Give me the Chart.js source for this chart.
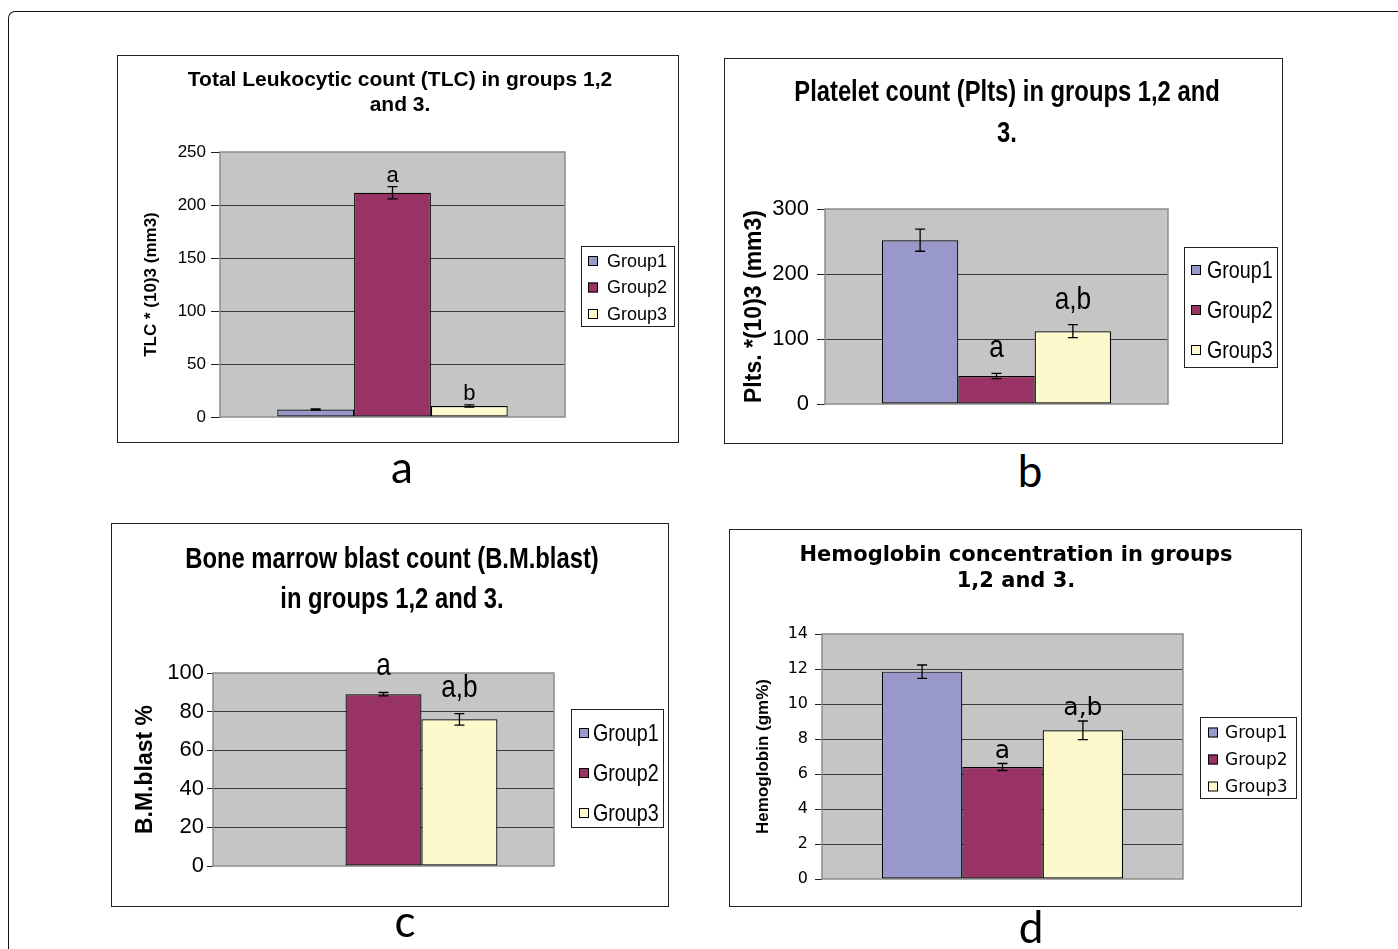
<!DOCTYPE html>
<html>
<head>
<meta charset="utf-8">
<script src="https://cdn.jsdelivr.net/npm/chart.js@4.4.0/dist/chart.umd.min.js"></script>
<style>
body{margin:0;background:#fff;width:1398px;height:949px;overflow:hidden;position:relative;}
.frame{position:absolute;left:8px;top:11px;width:1500px;height:1000px;border-top:1.5px solid #111;border-left:1.5px solid #111;border-top-left-radius:7px;}
.panel{position:absolute;box-sizing:border-box;border:1px solid #222;background:#fff;}
.panel canvas{position:absolute;left:0;top:0;}
.tag{position:absolute;font-family:Lato,"Open Sans",sans-serif;font-size:44px;line-height:44px;width:80px;text-align:center;color:#000;}
</style>
</head>
<body>
<div class="frame"></div>

<div class="panel" style="left:117px;top:55px;width:562px;height:388px;"><canvas id="tlcChart" width="560" height="386"></canvas></div>
<div class="panel" style="left:724px;top:58px;width:559px;height:386px;"><canvas id="pltChart" width="557" height="384"></canvas></div>
<div class="panel" style="left:111px;top:523px;width:558px;height:384px;"><canvas id="blastChart" width="556" height="382"></canvas></div>
<div class="panel" style="left:729px;top:529px;width:573px;height:378px;"><canvas id="hbChart" width="571" height="376"></canvas></div>

<div class="tag" style="left:362px;top:444px;">a</div>
<div class="tag" style="left:990px;top:448px;">b</div>
<div class="tag" style="left:365px;top:898px;">c</div>
<div class="tag" style="left:991px;top:904px;">d</div>

<script>
// data
const groups = ["Group1", "Group2", "Group3"];
const groupColors = ["#9898cb", "#993366", "#fcf9cc"];

const tlcMean = [7, 211.5, 10.4];
const tlcErr = [0.6, 5.8, 1];
const tlcSig = ["", "a", "b"];
const tlcTicks = [0, 50, 100, 150, 200, 250];

const pltMean = [252, 43, 112];
const pltErr = [17, 4, 10];
const pltSig = ["", "a", "a,b"];
const pltTicks = [0, 100, 200, 300];

const blastMean = [0, 89, 76];
const blastErr = [0, 0.9, 3];
const blastSig = ["", "a", "a,b"];
const blastTicks = [0, 20, 40, 60, 80, 100];

const hbMean = [11.85, 6.4, 8.5];
const hbErr = [0.38, 0.2, 0.53];
const hbSig = ["", "a", "a,b"];
const hbTicks = [0, 2, 4, 6, 8, 10, 12, 14];

const arial = '"Liberation Sans", Arial, sans-serif';
const dejavu = '"DejaVu Sans", sans-serif';

// text squeezed sideways, stands in for Arial Narrow
function squeezed(ctx, t, x, y, k){
  ctx.save();
  ctx.translate(x, y);
  ctx.scale(k, 1);
  ctx.fillText(t, 0, 0);
  ctx.restore();
}


function makeChart(id, s){

  let k = s.squeeze || 1;

  let decor = {
    id: "decor",
    beforeDraw(chart){
      let a = chart.chartArea, ctx = chart.ctx;
      ctx.save();
      ctx.fillStyle = "#c5c5c5";
      ctx.fillRect(a.left, a.top, a.right - a.left, a.bottom - a.top);
      ctx.restore();
    },
    beforeDatasetsDraw(chart){
      let a = chart.chartArea, ctx = chart.ctx;
      ctx.save();
      ctx.strokeStyle = "#8c8c8c";
      ctx.lineWidth = 1.5;
      ctx.strokeRect(a.left, a.top, a.right - a.left, a.bottom - a.top);
      ctx.restore();
    },
    afterDatasetsDraw(chart){
      let ctx = chart.ctx, y = chart.scales.y;
      ctx.save();
      ctx.strokeStyle = "#000";
      ctx.lineWidth = 1.3;
      ctx.fillStyle = "#000";
      ctx.font = s.sigFont;
      ctx.textAlign = "center";
      ctx.textBaseline = "alphabetic";
      for(let i = 0; i < groups.length; i++){
        let bar = chart.getDatasetMeta(i).data[0];
        let top = y.getPixelForValue(s.mean[i] + s.err[i]);
        let bot = y.getPixelForValue(s.mean[i] - s.err[i]);
        if(s.err[i] > 0){
          ctx.beginPath();
          ctx.moveTo(bar.x, top); ctx.lineTo(bar.x, bot);
          ctx.moveTo(bar.x - 5, top); ctx.lineTo(bar.x + 5, top);
          ctx.moveTo(bar.x - 5, bot); ctx.lineTo(bar.x + 5, bot);
          ctx.stroke();
        }
        if(s.sig[i]){
          squeezed(ctx, s.sig[i], bar.x, top - s.sigGap, k);
        }
      }
      ctx.restore();
    },
    afterDraw(chart){
      let ctx = chart.ctx;
      ctx.save();
      // title
      ctx.fillStyle = "#000";
      ctx.font = s.titleFont;
      ctx.textAlign = "center";
      ctx.textBaseline = "middle";
      s.title.forEach((t, i) => squeezed(ctx, t, s.titleX, s.titleY + i * s.titleLH, k));
      // legend
      let L = s.legend;
      ctx.strokeStyle = "#222";
      ctx.lineWidth = 1;
      ctx.strokeRect(L.x + 0.5, L.y + 0.5, L.w, L.h);
      ctx.font = L.font;
      ctx.textAlign = "left";
      groups.forEach((g, i) => {
        let ry = L.y + L.first + i * L.step;
        ctx.fillStyle = groupColors[i];
        ctx.fillRect(L.x + L.sx, ry - 5, 10, 10);
        ctx.strokeStyle = "#000";
        ctx.strokeRect(L.x + L.sx + 0.5, ry - 4.5, 9, 9);
        ctx.fillStyle = "#000";
        squeezed(ctx, g, L.x + L.tx, ry + 1, k);
      });
      ctx.restore();
    }
  };

  return new Chart(document.getElementById(id), {
    type: "bar",
    data: {
      labels: [""],
      datasets: groups.map((g, i) => ({
        label: g,
        data: [s.mean[i]],
        backgroundColor: groupColors[i],
        borderColor: "#000",
        borderWidth: 1.2,
        borderSkipped: false,
        categoryPercentage: 0.668,
        barPercentage: 1
      }))
    },
    options: {
      responsive: false,
      animation: false,
      layout: {padding: s.pad},
      plugins: {
        legend: {display: false},
        tooltip: {enabled: false},
        title: {display: false}
      },
      scales: {
        x: {display: false},
        y: {
          min: s.ticks[0],
          max: s.ticks[s.ticks.length - 1],
          afterFit: sc => { sc.width = s.axisW; },
          border: {display: false},
          grid: {
            color: c => (c.index === 0 || c.index === s.ticks.length - 1) ? "rgba(0,0,0,0)" : "#3a3a3a",
            tickColor: "#222",
            tickLength: s.tickLen,
            lineWidth: 1
          },
          ticks: {
            stepSize: s.ticks[1] - s.ticks[0],
            padding: s.tickPad,
            color: "#000",
            font: s.tickFont
          },
          title: {
            display: true,
            text: s.yTitle,
            color: "#000",
            font: s.yTitleFont,
            padding: {top: s.yTitlePad, bottom: 0}
          }
        }
      }
    },
    plugins: [decor]
  });
}


makeChart("tlcChart", {
  mean: tlcMean, err: tlcErr, sig: tlcSig, ticks: tlcTicks,
  pad: {top: 96, bottom: 25, left: 0, right: 113},
  axisW: 102, tickLen: 9, tickPad: 5,
  tickFont: {family: arial, size: 17},
  yTitle: "TLC * (10)3 (mm3)",
  yTitleFont: {family: arial, size: 17, weight: "bold", lineHeight: 1.2},
  yTitlePad: 23,
  title: ["Total Leukocytic count (TLC) in groups 1,2", "and 3."],
  titleFont: "bold 21px " + arial, titleX: 282, titleY: 24, titleLH: 25,
  sigFont: "22px " + arial, sigGap: 5,
  legend: {x: 463, y: 190, w: 93, h: 80, first: 15, step: 26.5, sx: 7, tx: 26, font: "18px " + arial}
});

makeChart("pltChart", {
  mean: pltMean, err: pltErr, sig: pltSig, ticks: pltTicks,
  squeeze: 0.82,
  pad: {top: 150, bottom: 39, left: 0, right: 114},
  axisW: 100, tickLen: 8, tickPad: 8,
  tickFont: {family: arial, size: 22},
  yTitle: "Plts. *(10)3 (mm3)",
  yTitleFont: {family: arial, size: 23, weight: "bold", lineHeight: 1.2},
  yTitlePad: 16,
  title: ["Platelet count (Plts) in groups 1,2 and", "3."],
  titleFont: "bold 29px " + arial, titleX: 282, titleY: 34, titleLH: 41,
  sigFont: "32px " + arial, sigGap: 16,
  legend: {x: 459, y: 188, w: 93, h: 120, first: 23, step: 40, sx: 7, tx: 23, font: "24px " + arial}
});

makeChart("blastChart", {
  mean: blastMean, err: blastErr, sig: blastSig, ticks: blastTicks,
  squeeze: 0.82,
  pad: {top: 149, bottom: 40, left: 0, right: 114},
  axisW: 101, tickLen: 6, tickPad: 3,
  tickFont: {family: arial, size: 22},
  yTitle: "B.M.blast %",
  yTitleFont: {family: arial, size: 23, weight: "bold", lineHeight: 1.2},
  yTitlePad: 20,
  title: ["Bone marrow blast count (B.M.blast)", "in groups 1,2 and 3."],
  titleFont: "bold 29px " + arial, titleX: 280, titleY: 36, titleLH: 40,
  sigFont: "32px " + arial, sigGap: 17,
  legend: {x: 459, y: 185, w: 92, h: 118, first: 24, step: 40, sx: 8, tx: 22, font: "24px " + arial}
});

makeChart("hbChart", {
  mean: hbMean, err: hbErr, sig: hbSig, ticks: hbTicks,
  pad: {top: 104, bottom: 27, left: 0, right: 118},
  axisW: 92, tickLen: 7, tickPad: 7,
  tickFont: {family: dejavu, size: 16},
  yTitle: "Hemoglobin (gm%)",
  yTitleFont: {family: arial, size: 17, weight: "bold", lineHeight: 1.2},
  yTitlePad: 23,
  title: ["Hemoglobin concentration in groups", "1,2 and 3."],
  titleFont: "bold 21px " + dejavu, titleX: 286, titleY: 26, titleLH: 26,
  sigFont: "25px " + dejavu, sigGap: 6,
  legend: {x: 470, y: 187, w: 96, h: 81, first: 15.5, step: 27, sx: 8, tx: 25, font: "17px " + dejavu}
});
</script>
</body>
</html>
